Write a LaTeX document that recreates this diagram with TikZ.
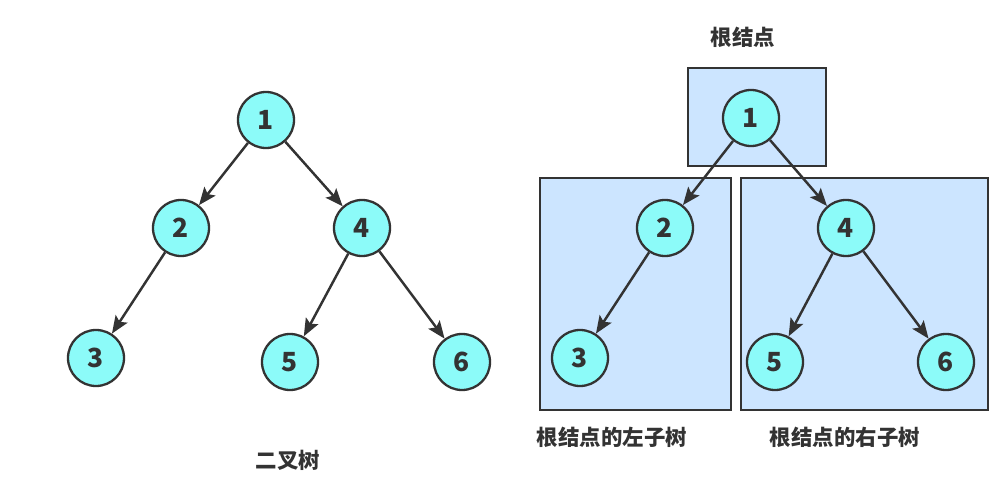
\documentclass[tikz,border=0pt]{standalone}
\usepackage{fontspec}
\usepackage{xcolor}
\usepackage{tikz}
\usetikzlibrary{arrows.meta,positioning,calc}
\setmainfont{Noto Sans CJK SC}
\definecolor{nodecyan}{HTML}{8CFBF9}
\definecolor{subblue}{HTML}{CCE5FF}
\definecolor{lineg}{HTML}{333333}

\begin{document}
\begin{tikzpicture}[>={Stealth[length=10pt, width=8pt, inset=2pt]}, font=\bfseries\fontsize{12.2}{14}\selectfont]

%%% ---------- estilos ----------
\tikzset{
    treenode/.style={circle, draw=lineg, line width=1.3pt, fill=nodecyan,
                     minimum size=1.12cm, inner sep=0pt, text=lineg,
                     font=\bfseries\fontsize{15}{17}\selectfont},
    subbox/.style={draw=lineg, line width=1.3pt, fill=subblue},
    edge/.style={->, line width=1.4pt, draw=lineg},
    caption/.style={text=lineg}
}

\useasboundingbox (0,0) rectangle (19.94,9.52);

% Cajas de subárboles (al fondo)
\draw[subbox] (13.76,8.16) rectangle (16.52,6.20);
\draw[subbox] (10.80,5.96) rectangle (14.62,1.32);
\draw[subbox] (14.82,5.96) rectangle (19.76,1.32);

% --- árbol izquierdo ---
\node[treenode] (l1) at (5.32,7.12) {1};
\node[treenode] (l2) at (3.62,4.96) {2};
\node[treenode] (l4) at (7.24,4.96) {4};
\node[treenode] (l3) at (1.92,2.36) {3};
\node[treenode] (l5) at (5.80,2.28) {5};
\node[treenode] (l6) at (9.24,2.28) {6};

% --- árbol derecho ---
\node[treenode] (r1) at (15.02,7.16) {1};
\node[treenode] (r2) at (13.30,4.96) {2};
\node[treenode] (r4) at (16.92,4.96) {4};
\node[treenode] (r3) at (11.60,2.36) {3};
\node[treenode] (r5) at (15.50,2.28) {5};
\node[treenode] (r6) at (18.92,2.28) {6};

% Aristas
\foreach \t in {l,r} {
    \draw[edge] (\t1) -- (\t2);
    \draw[edge] (\t1) -- (\t4);
    \draw[edge] (\t2) -- (\t3);
    \draw[edge] (\t4) -- (\t5);
    \draw[edge] (\t4) -- (\t6);
}

% Textos
\node[caption] (cap0) at (5.76,0.32) {二叉树};
\node[caption] (cap1) at (14.86,8.78) {根结点};
\node[caption] (cap2) at (12.24,0.78) {根结点的左子树};
\node[caption] (cap3) at (16.90,0.78) {根结点的右子树};

\end{tikzpicture}
\end{document}
